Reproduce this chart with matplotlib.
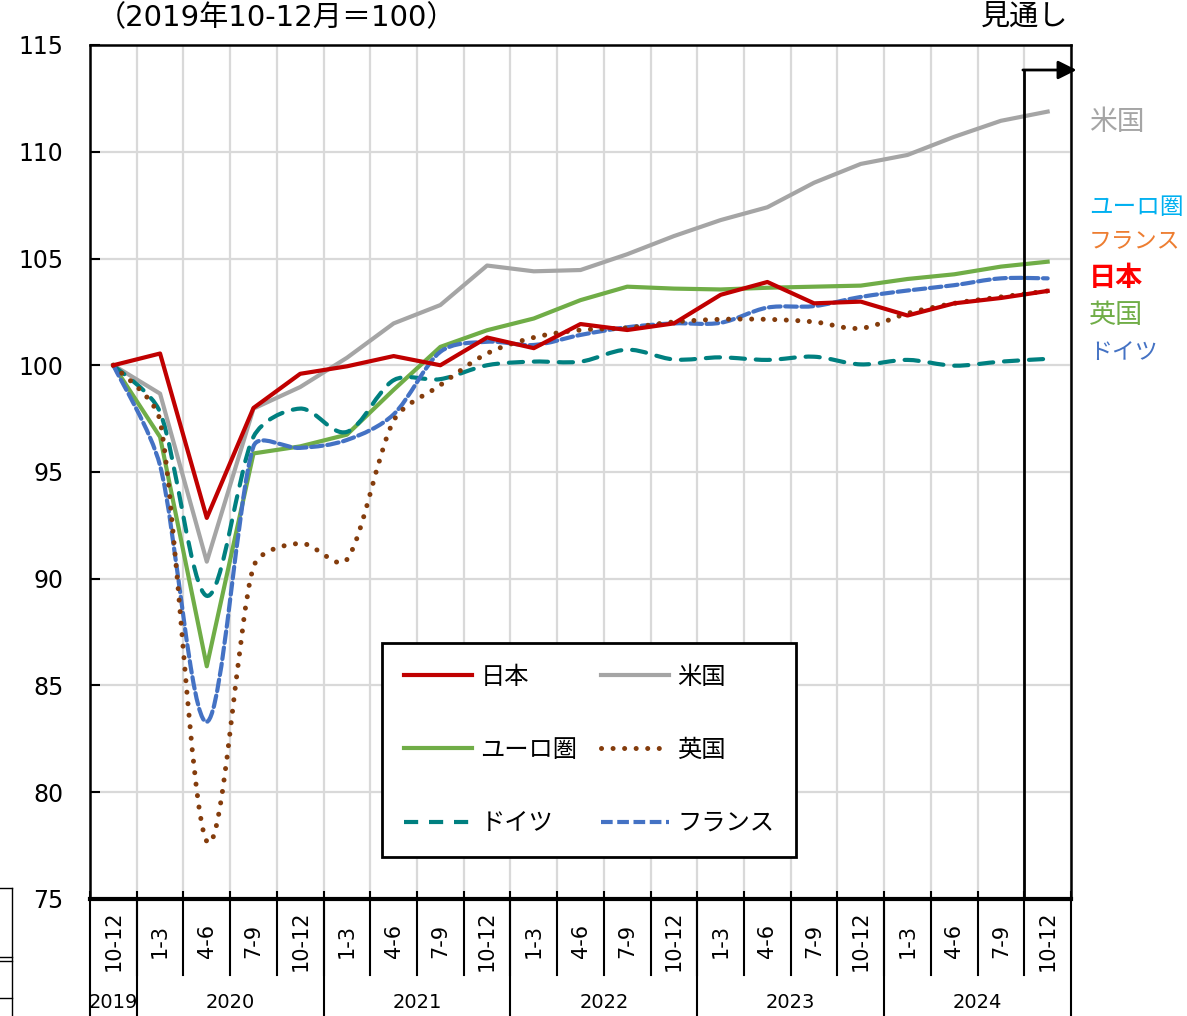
import numpy as np
import matplotlib
matplotlib.use("Agg")
import matplotlib.pyplot as plt
from matplotlib.path import Path
from matplotlib.patches import PathPatch
from matplotlib.lines import Line2D

plt.rcParams['font.family'] = ['DejaVu Sans', 'Noto Sans CJK JP']

# --- data (2019 10-12 = 100) ---
quarters = ['10-12', '1-3', '4-6', '7-9', '10-12', '1-3', '4-6', '7-9', '10-12',
            '1-3', '4-6', '7-9', '10-12', '1-3', '4-6', '7-9', '10-12',
            '1-3', '4-6', '7-9', '10-12']
years = ['2019', '2020', '2021', '2022', '2023', '2024']
year_start = [0, 1, 5, 9, 13, 17]
year_end = [0, 4, 8, 12, 16, 20]

japan = [100, 100.55, 92.85, 98.0, 99.6, 99.95, 100.43, 100.0, 101.3, 100.8, 101.93,
         101.65, 101.96, 103.3, 103.9, 102.9, 102.98, 102.33, 102.9, 103.15, 103.48]
us = [100, 98.67, 90.8, 97.97, 98.98, 100.35, 101.96, 102.82, 104.67, 104.4, 104.46,
      105.2, 106.05, 106.8, 107.4, 108.55, 109.43, 109.85, 110.7, 111.45, 111.88]
euro = [100, 96.64, 85.9, 95.87, 96.2, 96.75, 98.85, 100.86, 101.64, 102.19, 103.05,
        103.68, 103.59, 103.55, 103.63, 103.68, 103.73, 104.04, 104.26, 104.62, 104.85]
uk = [100, 97.4, 77.7, 90.56, 91.66, 90.9, 97.4, 99.07, 100.55, 101.3, 101.65,
      101.75, 102.03, 102.15, 102.15, 102.03, 101.73, 102.43, 102.9, 103.2, 103.48]
germany = [100, 97.8, 89.2, 96.65, 97.97, 96.88, 99.3, 99.35, 100.0, 100.17, 100.17,
           100.73, 100.27, 100.37, 100.25, 100.4, 100.04, 100.25, 99.98, 100.17, 100.3]
france = [100, 95.3, 83.3, 96.2, 96.13, 96.5, 97.7, 100.63, 101.1, 100.95, 101.42,
          101.78, 101.96, 101.99, 102.7, 102.77, 103.2, 103.5, 103.75, 104.07, 104.07]

side_labels = ['米国', 'ユーロ圏', 'フランス', '日本', '英国', 'ドイツ']
side_colors = ['#A5A5A5', '#00B0F0', '#ED7D31', '#FF0000', '#70AD47', '#4472C4']

W, H = 1187, 1016
fig = plt.figure(figsize=(W / 100, H / 100), dpi=100)
ax = fig.add_axes([90 / W, (H - 899) / H, 981 / W, 854 / H])
ax.set_xlim(-0.5, 20.5)
ax.set_ylim(75, 115)

x = np.arange(len(quarters))


def smooth_path(xs, ys, k=1 / 3):
    # Excel-style smoothed line: catmull-rom handles, capped by segment length
    d = ax.transData.transform(np.column_stack([xs, ys]))
    n = len(d)
    v = [(d[min(i + 1, n - 1)] - d[max(i - 1, 0)]) / 6 for i in range(n)]

    def capped(vec, L):
        m = np.hypot(*vec)
        return vec if m <= k * L else vec * (k * L / m)

    verts = [d[0]]
    codes = [Path.MOVETO]
    for i in range(n - 1):
        L = np.hypot(*(d[i + 1] - d[i]))
        verts += [d[i] + capped(v[i], L), d[i + 1] - capped(v[i + 1], L), d[i + 1]]
        codes += [Path.CURVE4] * 3
    verts = ax.transData.inverted().transform(np.array(verts))
    return Path(verts, codes)


lw = 3
ax.plot(x, japan, color='#C00000', lw=lw, zorder=6)
ax.plot(x, us, color='#A5A5A5', lw=lw, zorder=3)
ax.plot(x, euro, color='#70AD47', lw=lw, zorder=4)

styles = {
    'uk': dict(color='#843C0C', ls=(0, (0.01, 2.3)), lw=3.6),
    'de': dict(color='#008080', ls=(0, (3.4, 2.6)), lw=lw),
    'fr': dict(color='#4472C4', ls=(0, (2.8, 1.1)), lw=lw),
}
for key, vals in [('de', germany), ('fr', france), ('uk', uk)]:
    st = styles[key]
    patch = PathPatch(smooth_path(x, vals), facecolor='none', edgecolor=st['color'],
                      lw=st['lw'], linestyle=st['ls'], capstyle='round', zorder=5)
    ax.add_patch(patch)

ax.set_yticks(np.arange(75, 116, 5))
ax.set_xticks(np.arange(-0.5, 20.6, 1))
ax.set_xticklabels([])
ax.grid(True, color='#D9D9D9', lw=1.6)
ax.set_axisbelow(True)
ax.tick_params(axis='y', direction='in', length=7, width=1.5, labelsize=17, pad=19)
ax.tick_params(axis='x', direction='in', length=6, width=1.5)
for s in ['top', 'right', 'left']:
    ax.spines[s].set_linewidth(1.8)
ax.spines['bottom'].set_linewidth(3)

# category axis below
tr = ax.get_xaxis_transform()
q_bottom = -(975 - 899) / 854
y_bottom = -(1016 - 899) / 854
for i, q in enumerate(quarters):
    ax.text(i, -(941 - 899) / 854, q, transform=tr, rotation=90, ha='center',
            va='center', fontsize=15)
for b in np.arange(0.5, 20, 1):
    ax.plot([b, b], [0, q_bottom], transform=tr, color='k', lw=1.5, clip_on=False)
for s, e, yr in zip(year_start, year_end, years):
    ax.plot([s - 0.5, s - 0.5], [0, y_bottom], transform=tr, color='k', lw=1.5, clip_on=False)
    ax.text((s + e) / 2, -(1002 - 899) / 854, yr, transform=tr, ha='center',
            va='center', fontsize=14)
ax.plot([20.5, 20.5], [0, y_bottom], transform=tr, color='k', lw=1.5, clip_on=False)

# forecast marker
y_arrow = 115 - (70 - 45) / (854 / 40)
ax.plot([19.5, 19.5], [75, y_arrow], color='k', lw=2, zorder=7, clip_on=False)
ax.annotate('', xy=(20.62, y_arrow), xytext=(19.47, y_arrow), annotation_clip=False,
            arrowprops=dict(arrowstyle='-|>', color='k', lw=2, mutation_scale=28,
                            shrinkA=0, shrinkB=0), zorder=7)

# legend
handles = [
    Line2D([], [], color='#C00000', lw=lw),
    Line2D([], [], color='#70AD47', lw=lw),
    Line2D([], [], color=styles['de']['color'], lw=lw, ls=styles['de']['ls']),
    Line2D([], [], color='#A5A5A5', lw=lw),
    Line2D([], [], color=styles['uk']['color'], lw=3.6, ls=styles['uk']['ls'],
           dash_capstyle='round'),
    Line2D([], [], color=styles['fr']['color'], lw=lw, ls=styles['fr']['ls']),
]
labels = ['日本', 'ユーロ圏', 'ドイツ', '米国', '英国', 'フランス']
leg = ax.legend(handles, labels, ncol=2, loc='upper left',
                bbox_to_anchor=((382 - 90) / 981, (899 - 643) / 854),
                borderaxespad=0, fontsize=17.5, handlelength=2.8, handletextpad=0.35,
                columnspacing=0.95, labelspacing=2.02, borderpad=0.9,
                fancybox=False, framealpha=1, edgecolor='k')
leg.get_frame().set_linewidth(2)
leg.set_zorder(10)

# texts
fig.text(97 / W, 1 - 18 / H, '（2019年10-12月＝100）', ha='left', va='center', fontsize=21)
fig.text(1068 / W, 1 - 18 / H, '見通し', ha='right', va='center', fontsize=21)
side_y = [122, 207, 241, 279, 316, 352]
side_size = [20, 17, 16.5, 19.5, 19.5, 16.5]
for lab, col, yy, fs in zip(side_labels, side_colors, side_y, side_size):
    fig.text(1089 / W, 1 - yy / H, lab, color=col, ha='left', va='center', fontsize=fs,
             fontweight='bold' if lab == '日本' else 'normal')

# leftover frame pieces at the bottom-left edge
for xs, ys in [([12, 12], [888, 1016]), ([0, 12], [888, 888]), ([0, 12], [957, 957]),
               ([0, 12], [961, 961]), ([0, 12], [998, 998])]:
    fig.add_artist(Line2D([v / W for v in xs], [1 - v / H for v in ys], color='k', lw=1))

fig.savefig('out.png', dpi=100)
